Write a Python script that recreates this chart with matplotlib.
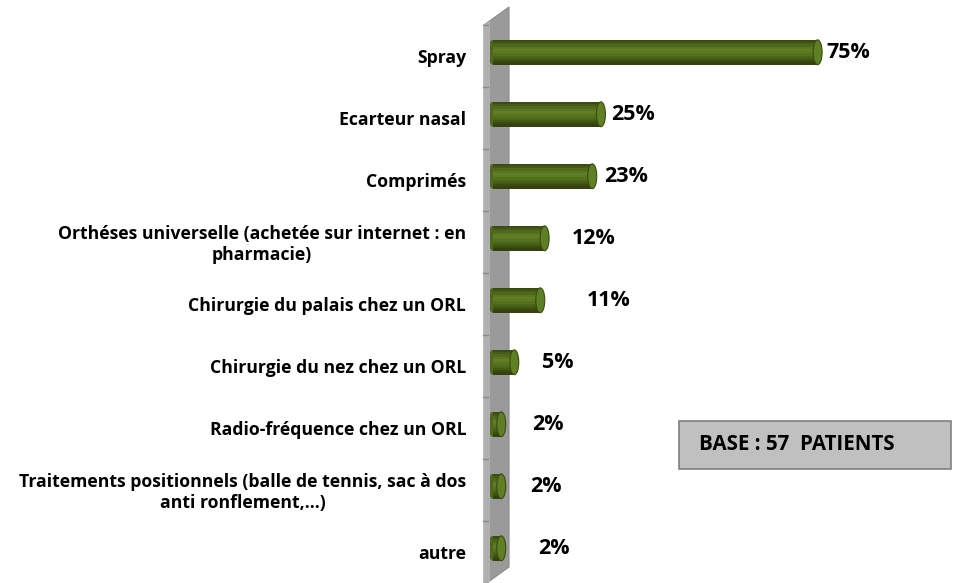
import matplotlib
matplotlib.use("Agg")
import matplotlib.pyplot as plt
from matplotlib.patches import Polygon, Ellipse, Rectangle
import numpy as np

plt.rcParams['font.family'] = ['Open Sans', 'DejaVu Sans']

categories = [
    "Spray",
    "Ecarteur nasal",
    "Comprimés",
    "Orthéses universelle (achetée sur internet : en\npharmacie)",
    "Chirurgie du palais chez un ORL",
    "Chirurgie du nez chez un ORL",
    "Radio-fréquence chez un ORL",
    "Traitements positionnels (balle de tennis, sac à dos\nanti ronflement,…)",
    "autre",
]
values = [75, 25, 23, 12, 11, 5, 2, 2, 2]
value_labels = ["75%", "25%", "23%", "12%", "11%", "5%", "2%", "2%", "2%"]
base_text = "BASE : 57  PATIENTS"

# label nudges (points) for value labels
label_dx = [3, 4, 5.5, 16.5, 30, 16.5, 19, 17.5, 23]

W, H, DPI = 957, 583, 100
fig = plt.figure(figsize=(W / DPI, H / DPI), dpi=DPI)

def px(x0, y0, x1, y1):
    return [x0 / W, 1 - y1 / H, (x1 - x0) / W, (y1 - y0) / H]

# 3D wall (decoration) in figure pixel coords
wall_ax = fig.add_axes([0, 0, 1, 1])
wall_ax.set_xlim(0, W)
wall_ax.set_ylim(H, 0)
wall_ax.axis('off')
wall = Polygon([(484, 25), (509, 7), (509, 567), (484, 585)], closed=True,
               facecolor='#9a9a9a', edgecolor='#8a8a8a', lw=0.8)
wall_ax.add_patch(wall)
wall_ax.add_patch(Polygon([(484, 25), (490, 21), (490, 581), (484, 585)], closed=True,
                          facecolor='#b0b0b0', edgecolor='none'))

ax = fig.add_axes(px(490, 25, 945, 583))
ax.patch.set_alpha(0)
n = len(categories)
ax.set_xlim(0, 105)
ax.set_ylim(n - 0.5, -0.5)
for s in ax.spines.values():
    s.set_visible(False)
ax.set_xticks([])
ax.set_yticks([])

# y tick marks at category boundaries
for b in np.arange(-0.5, n, 1.0):
    ax.plot([-1.6, -0.4], [b, b], color='#8c8c8c', lw=1, clip_on=False, transform=ax.transData)

pxu = 455 / 105.0  # pixels per data unit in x
bar_h = 0.40
y_off = -0.06
shades = ['#3b4c12', '#455a16', '#4f681b', '#5a7620', '#607f24', '#5c7a22',
          '#54721d', '#4b6519', '#435914', '#3a4c10', '#334210']
cap_w = 9 / pxu
for i, v in enumerate(values):
    yc = i + y_off
    x0 = 0.6
    x1 = x0 + v
    ns = len(shades)
    for k, c in enumerate(shades):
        top = yc - bar_h / 2 + k * bar_h / ns
        ax.add_patch(Rectangle((x0, top), x1 - x0, bar_h / ns + 0.002,
                               facecolor=c, edgecolor='none', zorder=3))
    ax.add_patch(Ellipse((x0, yc), cap_w, bar_h, facecolor='#4f681b', edgecolor='none', zorder=2.9))
    ax.add_patch(Ellipse((x1, yc), cap_w, bar_h, facecolor='#5f7f24', edgecolor='#3a4c10',
                         lw=0.8, zorder=4))
    ax.annotate(value_labels[i], (x1 + cap_w / 2, yc), xytext=(label_dx[i], 0),
                textcoords='offset points', ha='left', va='center',
                fontsize=15.5, fontweight='bold', color='black', zorder=5)

# category labels
for i, lab in enumerate(categories):
    ax.text(-5.5, i + 0.04, lab, ha='right', va='center', multialignment='center',
            fontsize=12.7, fontweight='bold', color='black', linespacing=1.25,
            transform=ax.transData)

# base box
fig.text(699 / W, 1 - 445 / H, base_text, ha='left', va='center', fontsize=14.8,
         fontweight='bold', color='black')
wall_ax.add_patch(Rectangle((679, 421), 272, 48, facecolor='#c0c0c0', edgecolor='#808080',
                            lw=1.2, zorder=1))

fig.savefig('out.png', dpi=DPI)
